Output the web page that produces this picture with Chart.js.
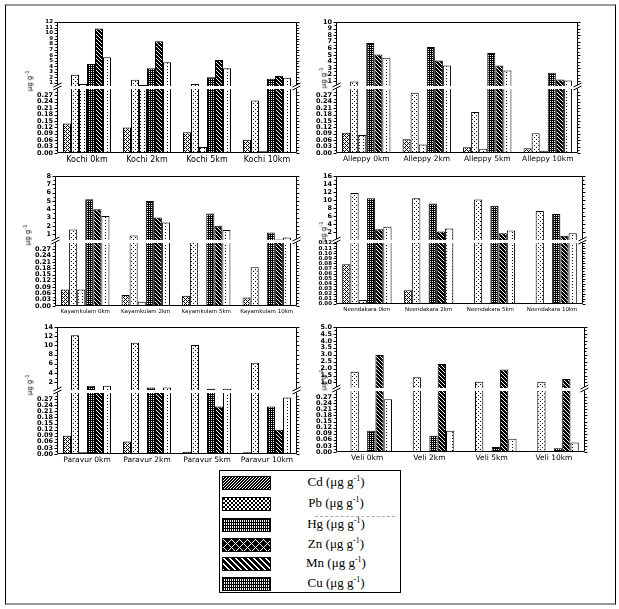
<!DOCTYPE html>
<html>
<head>
<meta charset="utf-8">
<script src="https://cdn.jsdelivr.net/npm/chart.js@4.4.0/dist/chart.umd.min.js"></script>
<style>
  body { margin: 0; background: #fff; width: 619px; height: 609px; position: relative; overflow: hidden; font-family: "DejaVu Sans", sans-serif; }
  #frame { position: absolute; left: 5px; top: 4px; width: 609px; height: 597px; border-left: 1px solid #000; border-right: 1px solid #000; border-top: 2px solid #999; border-bottom: 2px solid #999; }
  canvas { position: absolute; }
  .ytitle { position: absolute; font-size: 7px; line-height: 7px; white-space: nowrap; transform: translate(-50%, -50%) rotate(-90deg); }
  .ytitle sup { font-size: 5px; }
  #legend { position: absolute; left: 219px; top: 470px; width: 180px; height: 121px; border: 1px solid #000; background: #fff; }
  #legend .row { position: absolute; left: 0; width: 180px; height: 16px; }
  #legend canvas { position: absolute; left: 2px; top: 1px; border: 1px solid #000; }
  #legend .txt { position: absolute; left: 60px; width: 112px; text-align: center; top: -1px; font-family: "Liberation Serif", serif; font-size: 13px; line-height: 16px; color: #000; }
  #legend .txt sup { font-size: 8px; line-height: 0; }
  #dash { position: absolute; left: 95px; top: 45px; width: 80px; border-top: 1px dashed #aaa; }
</style>
</head>
<body>
<div id="frame"></div>
<div id="legend"><div id="dash"></div></div>
<script>
const distances = ['0km', '2km', '5km', '10km'];
const sites = ['Kochi', 'Alleppy', 'Kayamkulam', 'Neendakara', 'Paravur', 'Veli'];
const metals = ['Cd', 'Pb', 'Hg', 'Zn', 'Mn', 'Cu'];

// rows: Cd, Pb, Hg, Zn, Mn, Cu  /  columns: 0, 2, 5, 10 km  (µg g-1)
const kochi = [
  [0.138, 0.12, 0.097, 0.062],
  [2.43, 1.54, 0.76, 0.246],
  [0.76, 0.58, 0.028, 0.008],
  [4.4, 3.6, 2.0, 1.7],
  [10.8, 8.5, 5.1, 2.2],
  [5.6, 4.7, 3.6, 1.9]
];
const alleppy = [
  [0.095, 0.065, 0.027, 0.022],
  [1.0, 0.283, 0.192, 0.092],
  [0.084, 0.04, 0.02, 0.011],
  [6.8, 6.2, 5.3, 2.3],
  [5.07, 4.15, 3.4, 1.3],
  [4.57, 3.4, 2.66, 1.15]
];
const kayamkulam = [
  [0.078, 0.052, 0.049, 0.041],
  [1.56, 0.84, 0.31, 0.185],
  [0.078, 0.02, 0.006, 0.005],
  [5.2, 5.0, 3.5, 1.2],
  [4.0, 3.0, 2.0, 0.36],
  [3.2, 2.4, 1.5, 0.6]
];
const neendakara = [
  [0.078, 0.027, null, null],
  [11.8, 10.5, 10.2, 7.3],
  [0.008, 0.0025, null, null],
  [10.5, 9.2, 8.6, 6.6],
  [2.8, 2.2, 1.8, 1.2],
  [3.4, 3.0, 2.5, 1.8]
];
const paravur = [
  [0.09, 0.062, 0.011, 0.008],
  [12.2, 10.6, 10.1, 6.2],
  [0.008, 0.006, null, null],
  [1.2, 0.85, 0.56, 0.234],
  [0.31, 0.31, 0.234, 0.119],
  [1.2, 0.85, 0.56, 0.278]
];
const veli = [
  [0.004, 0.002, 0.002, 0.002],
  [1.78, 1.37, 1.05, 1.05],
  [0.002, null, null, null],
  [0.104, 0.08, 0.024, 0.019],
  [2.98, 2.33, 1.94, 1.25],
  [0.26, 0.104, 0.065, 0.047]
];

// tick labels
const lowerTicks = [0, 0.03, 0.06, 0.09, 0.12, 0.15, 0.18, 0.21, 0.24, 0.27];
const neendakaraLowerTicks = [0, 0.01, 0.02, 0.03, 0.04, 0.05, 0.06, 0.07, 0.08, 0.09, 0.10, 0.11, 0.12];
const kochiUpperTicks = [1, 2, 3, 4, 5, 6, 7, 8, 9, 10, 11, 12];
const alleppyUpperTicks = [1, 2, 3, 4, 5, 6, 7, 8, 9, 10];
const kayamkulamUpperTicks = [1, 2, 3, 4, 5, 6, 7, 8];
const neendakaraUpperTicks = [2, 4, 6, 8, 10, 12, 14, 16];
const paravurUpperTicks = [2, 4, 6, 8, 10, 12, 14];
const veliUpperTicks = [1.0, 1.5, 2.0, 2.5, 3.0, 3.5, 4.0, 4.5, 5.0];

// axis ranges of the broken axes
const lowerMax = [0.3, 0.3, 0.3, 0.12, 0.3, 0.3];
const upperMin = [0.4, 0.3, 0.3, 0.12, 0.3, 0.6];
const upperMax = [12, 10, 8, 16, 14, 5];

const siteData = [kochi, alleppy, kayamkulam, neendakara, paravur, veli];
const siteLowerTicks = [lowerTicks, lowerTicks, lowerTicks, neendakaraLowerTicks, lowerTicks, lowerTicks];
const siteUpperTicks = [kochiUpperTicks, alleppyUpperTicks, kayamkulamUpperTicks, neendakaraUpperTicks, paravurUpperTicks, veliUpperTicks];
const upperDecimals = [0, 0, 0, 0, 0, 1];

// layout: plot left, right, upper top, upper bottom, lower top, lower bottom
const boxes = [
  [57, 297, 22, 86, 89, 153],
  [336, 578, 22, 86, 89, 153],
  [55, 297, 176, 240, 243, 306],
  [336, 583, 176, 240, 243, 304],
  [57, 297, 327, 390, 393, 454],
  [336, 585, 327, 388, 391, 452]
];
const labelSize = [8, 7.5, 5.5, 5.5, 7.5, 7.5];
const upperTickSize = [5.5, 6.5, 6.5, 6.5, 6.5, 6.5];
const lowerTickSize = [6.5, 6.5, 6.5, 5.5, 6.5, 6.5];
const YW = 30, XH = 12;

function makePattern(w, h, bg, fg, fn) {
  const c = document.createElement('canvas');
  c.width = w; c.height = h;
  const g = c.getContext('2d');
  g.fillStyle = bg; g.fillRect(0, 0, w, h);
  g.fillStyle = fg;
  for (let x = 0; x < w; x++) {
    for (let y = 0; y < h; y++) {
      if (fn(x, y)) g.fillRect(x, y, 1, 1);
    }
  }
  return g.createPattern(c, 'repeat');
}

const barPatterns = [
  makePattern(4, 4, '#fff', '#000', (x, y) => (x + y) % 4 === 0 || (x - y + 4) % 4 === 0),
  makePattern(4, 4, '#fff', '#000', (x, y) => (x === 0 && y === 0) || (x === 2 && y === 2)),
  makePattern(4, 3, '#fff', '#000', (x, y) => x === 1 && y === 1),
  makePattern(2, 2, '#000', '#fff', (x, y) => x === 0 && y === 0),
  makePattern(4, 4, '#000', '#fff', (x, y) => (x - y + 4) % 4 === 0),
  makePattern(6, 3, '#fff', '#000', (x, y) => x === 2 && y === 1)
];

const legendPatterns = [
  makePattern(3, 3, '#000', '#fff', (x, y) => (x + y) % 3 === 0),
  makePattern(4, 4, '#fff', '#000', (x, y) => ((x >> 1) + (y >> 1)) % 2 === 0),
  makePattern(2, 3, '#fff', '#000', (x, y) => x === 0 || y === 0),
  makePattern(8, 8, '#000', '#fff', (x, y) => (x + y) % 8 === 0 || (x - y + 8) % 8 === 0),
  makePattern(6, 6, '#000', '#fff', (x, y) => (x - y + 6) % 6 === 0 || (x - y + 6) % 6 === 1),
  makePattern(2, 3, '#fff', '#000', (x, y) => x === 0 || y === 0)
];

// frame, outside ticks and axis break marks
const framePlugin = {
  id: 'frame',
  afterDraw(chart, args, opts) {
    const { ctx, chartArea: a, scales } = chart;
    const L = Math.round(a.left) + 0.5, R = Math.round(a.right) - 0.5;
    const T = Math.round(a.top) + 0.5, B = Math.round(a.bottom) - 0.5;
    const y = scales.y;
    ctx.save();
    ctx.strokeStyle = '#000';
    ctx.lineWidth = 1;
    ctx.beginPath();
    if (opts.part === 'upper') {
      ctx.moveTo(L, B + 1); ctx.lineTo(L, T); ctx.lineTo(R, T); ctx.lineTo(R, B + 1);
    } else {
      ctx.moveTo(L, T - 1); ctx.lineTo(L, B); ctx.lineTo(R, B); ctx.lineTo(R, T - 1);
    }
    const vals = y.ticks.map(t => t.value);
    vals.forEach((v, i) => {
      const p = Math.round(y.getPixelForValue(v)) + 0.5;
      ctx.moveTo(L - 3, p); ctx.lineTo(L, p);
      ctx.moveTo(R, p); ctx.lineTo(R + 3, p);
      const step = i > 0 ? v - vals[i - 1] : vals[1] - vals[0];
      const mid = v + step / 2;
      if (mid < y.max) {
        const q = Math.round(y.getPixelForValue(mid)) + 0.5;
        ctx.moveTo(L - 2, q); ctx.lineTo(L, q);
        ctx.moveTo(R, q); ctx.lineTo(R + 2, q);
      }
    });
    ctx.stroke();
    if (opts.part === 'lower') {
      const t = a.top;
      [L, R].forEach(x => {
        ctx.fillStyle = '#fff';
        ctx.beginPath();
        ctx.moveTo(x - 4, t + 1); ctx.lineTo(x + 4, t - 3); ctx.lineTo(x + 4, t - 6); ctx.lineTo(x - 4, t - 2);
        ctx.closePath(); ctx.fill();
        ctx.beginPath();
        ctx.moveTo(x - 4, t + 1); ctx.lineTo(x + 4, t - 3);
        ctx.moveTo(x - 4, t - 2); ctx.lineTo(x + 4, t - 6);
        ctx.stroke();
      });
    }
    ctx.restore();
  }
};

function datasets(rows) {
  return metals.map((m, i) => ({
    label: m,
    data: rows[i].slice(),
    backgroundColor: barPatterns[i],
    borderColor: '#000',
    borderWidth: 1,
    barPercentage: 1,
    categoryPercentage: 0.8,
    clip: 0
  }));
}

function yScale(min, max, ticks, dec, size) {
  return {
    min: min,
    max: max,
    afterBuildTicks: s => { s.ticks = ticks.map(v => ({ value: v })); },
    afterFit: s => { s.width = YW; s.paddingTop = 0; s.paddingBottom = 0; },
    grid: { display: false, drawTicks: false },
    border: { display: false },
    ticks: {
      color: '#000',
      padding: 4,
      autoSkip: false,
      font: { family: 'DejaVu Sans', size: size, weight: 'bold' },
      callback: v => v.toFixed(dec)
    }
  };
}

function addChart(left, top, w, h, config) {
  const c = document.createElement('canvas');
  c.width = w; c.height = h;
  c.style.left = left + 'px';
  c.style.top = top + 'px';
  c.style.width = w + 'px';
  c.style.height = h + 'px';
  document.body.appendChild(c);
  return new Chart(c, config);
}

function addTitle(x, y) {
  const d = document.createElement('div');
  d.className = 'ytitle';
  d.style.left = x + 'px';
  d.style.top = y + 'px';
  d.innerHTML = 'μg g<sup>-1</sup>';
  document.body.appendChild(d);
}

sites.forEach((site, k) => {
  const [left, right, uTop, uBot, lTop, lBot] = boxes[k];
  const labels = distances.map(d => site + ' ' + d);
  const w = right - left + YW + 5;

  addChart(left - YW, uTop - 5, w, uBot - uTop + 9, {
    type: 'bar',
    data: { labels: labels, datasets: datasets(siteData[k]) },
    options: {
      responsive: false,
      animation: false,
      layout: { padding: { top: 5, bottom: 4, left: 0, right: 5 } },
      scales: {
        x: { display: false },
        y: yScale(upperMin[k], upperMax[k], siteUpperTicks[k], upperDecimals[k], upperTickSize[k])
      },
      plugins: { legend: { display: false }, tooltip: { enabled: false }, frame: { part: 'upper' } }
    },
    plugins: [framePlugin]
  });

  addChart(left - YW, lTop - 8, w, lBot - lTop + 8 + XH, {
    type: 'bar',
    data: { labels: labels, datasets: datasets(siteData[k]) },
    options: {
      responsive: false,
      animation: false,
      layout: { padding: { top: 8, bottom: 0, left: 0, right: 5 } },
      scales: {
        x: {
          grid: { display: false, drawTicks: false },
          border: { display: false },
          afterFit: s => { s.height = XH; s.paddingLeft = 0; s.paddingRight = 0; },
          ticks: {
            color: '#000',
            padding: 2,
            maxRotation: 0,
            minRotation: 0,
            autoSkip: false,
            font: { family: 'DejaVu Sans', size: labelSize[k] }
          }
        },
        y: yScale(0, lowerMax[k], siteLowerTicks[k], 2, lowerTickSize[k])
      },
      plugins: { legend: { display: false }, tooltip: { enabled: false }, frame: { part: 'lower' } }
    },
    plugins: [framePlugin]
  });

  if (left < 200) addTitle(left - 28, uBot - 5);
  else addTitle(left - 13, uBot - 8);
});

// legend
const legend = document.getElementById('legend');
const rowCenters = [12, 33, 54, 74, 93, 113];
metals.forEach((m, i) => {
  const row = document.createElement('div');
  row.className = 'row';
  row.style.top = (rowCenters[i] - 8) + 'px';
  const sw = document.createElement('canvas');
  sw.width = 47; sw.height = 12;
  const g = sw.getContext('2d');
  g.fillStyle = legendPatterns[i];
  g.fillRect(0, 0, 47, 12);
  row.appendChild(sw);
  const t = document.createElement('div');
  t.className = 'txt';
  t.innerHTML = m + ' (μg g<sup>-1</sup>)';
  row.appendChild(t);
  legend.appendChild(row);
});
</script>
</body>
</html>
